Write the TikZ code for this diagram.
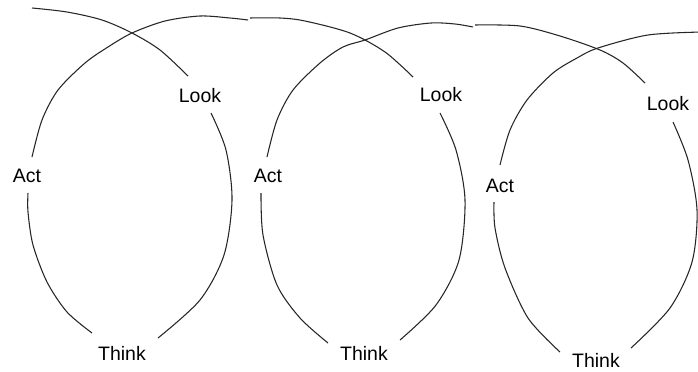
\documentclass[tikz,border=0pt]{standalone}
\usepackage{fontspec}
\setmainfont{Liberation Sans}
\begin{document}
\begin{tikzpicture}[x=0.75pt,y=-0.75pt,
  lbl/.style={font=\fontsize{14.6}{16}\selectfont, inner sep=1pt, text=black},
  loop/.style={line width=0.8pt, draw=black!85, smooth, tension=0.5}]
\useasboundingbox (0,0) rectangle (698,371);
\clip (0,0) rectangle (698,371);
% labels
\node[lbl] (look1)  at (200,96)  {Look};
\node[lbl] (act1)   at (27,176)  {Act};
\node[lbl] (think1) at (122,353) {Think};
\node[lbl] (look2)  at (441,95)  {Look};
\node[lbl] (act2)   at (268,176) {Act};
\node[lbl] (think2) at (364,353) {Think};
\node[lbl] (look3)  at (668,104) {Look};
\node[lbl] (act3)   at (500,186) {Act};
\node[lbl] (think3) at (596,360) {Think};
% end points of the arcs
\coordinate (start) at (32,8);
\coordinate (l1in)  at (188,76);
\coordinate (l1out) at (211,113);
\coordinate (t1in)  at (158,338);
\coordinate (t1out) at (92,333);
\coordinate (a1in)  at (28,193);
\coordinate (a1out) at (32,157);
\coordinate (k1a)   at (248,20);
\coordinate (k1b)   at (250,18);
\coordinate (l2in)  at (413,77);
\coordinate (l2out) at (440,113);
\coordinate (t2in)  at (400,340);
\coordinate (t2out) at (328,343);
\coordinate (a2in)  at (261,193);
\coordinate (a2out) at (267,157);
\coordinate (k2a)   at (473,27);
\coordinate (k2b)   at (475,25);
\coordinate (l3in)  at (645,83);
\coordinate (l3out) at (673,122);
\coordinate (t3in)  at (631,348);
\coordinate (t3out) at (560,352);
\coordinate (a3in)  at (494,202);
\coordinate (a3out) at (500,165);
\coordinate (end)   at (702,32);
% loop 1
\draw[loop] plot coordinates {(start) (67,12) (102,20) (132,33) (160,50) (l1in)};
\draw[loop] plot coordinates {(l1out) (226,150) (232,200) (224,255) (200,300) (t1in)};
\draw[loop] plot coordinates {(t1out) (67,312) (47,282) (33,245) (28,212) (a1in)};
\draw[loop] plot coordinates {(a1out) (42,120) (58,90) (85,63) (108,47) (132,33) (165,21) (200,16) (230,18) (k1a)};
\draw[loop] plot coordinates {(k1b) (280,18) (305,21) (350,33) (385,52) (l2in)};
% loop 2
\draw[loop] plot coordinates {(l2out) (456,150) (465,200) (459,260) (436,305) (t2in)};
\draw[loop] plot coordinates {(t2out) (300,318) (277,285) (263,235) (a2in)};
\draw[loop] plot coordinates {(a2out) (277,120) (293,90) (320,63) (343,47) (365,40) (398,28) (431,23) (455,24) (k2a)};
\draw[loop] plot coordinates {(k2b) (520,26) (560,36) (600,50) (623,63) (l3in)};
% loop 3
\draw[loop] plot coordinates {(l3out) (688,160) (697,210) (692,262) (670,308) (t3in)};
\draw[loop] plot coordinates {(t3out) (528,318) (505,268) (495,228) (a3in)};
\draw[loop] plot coordinates {(a3out) (510,130) (527,100) (553,73) (577,58) (598,48) (648,35) (end)};
\end{tikzpicture}
\end{document}
